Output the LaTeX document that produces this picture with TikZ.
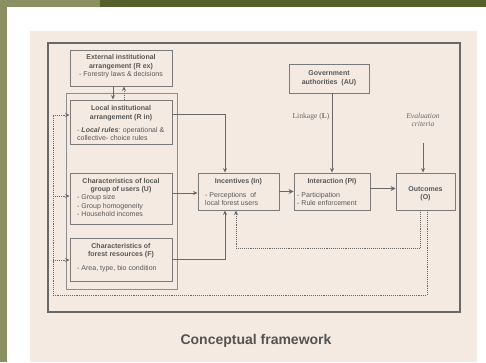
\documentclass[tikz,border=0pt]{standalone}
\usepackage{fontspec}
\setmainfont{Liberation Sans}
\newfontfamily\serifx{Liberation Serif}
\usetikzlibrary{arrows.meta}
\definecolor{olivelt}{HTML}{8A9062}
\definecolor{olivedk}{HTML}{55602A}
\definecolor{panel}{HTML}{F5EAE2}
\definecolor{txt}{HTML}{575757}
\definecolor{edge}{HTML}{7A7A7A}
\definecolor{framec}{HTML}{686868}
\begin{document}
\begin{tikzpicture}[x=1pt,y=-1pt,
  box/.style={draw=edge, line width=0.9pt, inner sep=0pt},
  tl/.style={anchor=base, inner sep=0pt, text=txt, font=\fontsize{7}{8}\selectfont},
  tlb/.style={tl, font=\fontsize{7}{8}\selectfont\bfseries},
  tll/.style={tl, anchor=base west},
  ar/.style={draw=framec, line width=0.9pt, -{Stealth[length=4.5pt,width=4pt]}},
  art/.style={draw=framec, line width=1.8pt, -{Stealth[length=5pt,width=5pt]}},
  dt/.style={draw=framec, line width=0.9pt, densely dotted, -{Stealth[length=4.5pt,width=4pt]}},
  dtn/.style={draw=framec, line width=0.9pt, densely dotted}]
\useasboundingbox (0,0) rectangle (486,362);
% background
\fill[white] (0,0) rectangle (486,362);
\fill[olivelt] (0,0) rectangle (7,362);
\fill[olivelt] (0,0) rectangle (100,7);
\fill[olivedk] (100,0) rectangle (486,7);
\fill[panel] (30,31) rectangle (477,362);
\draw[framec, line width=1.1pt] (48,43) rectangle (460,312);
\draw[edge!85, line width=0.8pt] (66,93) rectangle (177,289);
% boxes
\node[box, minimum width=102pt, minimum height=36pt] (ext) at (121,68) {};
\node[box, minimum width=102pt, minimum height=44pt] (loc) at (121,122) {};
\node[box, minimum width=102pt, minimum height=51pt] (grp) at (121,198.5) {};
\node[box, minimum width=102pt, minimum height=43pt] (for) at (121,259.5) {};
\node[box, minimum width=80pt, minimum height=29pt] (gov) at (329,78.5) {};
\node[box, minimum width=81pt, minimum height=37pt] (inc) at (238.5,191.5) {};
\node[box, minimum width=76pt, minimum height=37pt] (int) at (332,191.5) {};
\node[box, minimum width=59pt, minimum height=37pt] (out) at (425.5,191.5) {};
% texts
\node[tlb] (ext1) at (121,59.5) {External institutional};
\node[tlb] (ext2) at (121,68.5) {arrangement (R ex)};
\node[tl] (ext3) at (121,76.5) {- Forestry laws \& decisions};
\node[tlb] (loc1) at (121,110.5) {Local institutional};
\node[tlb] (loc2) at (121,119.5) {arrangement (R in)};
\node[tll] (loc3) at (77,132.5) {- \textbf{\textit{Local rules}}: operational \&};
\node[tll] (loc4) at (77,140.5) {collective- choice rules};
\node[tlb] (grp1) at (121,183.5) {Characteristics of local};
\node[tlb] (grp2) at (121,191.5) {group of users (U)};
\node[tll] (grp3) at (77,199.5) {- Group size};
\node[tll] (grp4) at (77,208.5) {- Group homogeneity};
\node[tll] (grp5) at (77,216.5) {- Household incomes};
\node[tlb] (for1) at (121,248.5) {Characteristics of};
\node[tlb] (for2) at (121,256.5) {forest resources (F)};
\node[tll] (for3) at (77,270.5) {- Area, type, bio condition};
\node[tlb] (gov1) at (329,75.5) {Government};
\node[tlb] (gov2) at (329,84.5) {authorities\ \ (AU)};
\node[tlb] (inc1) at (238.5,183.5) {Incentives (In)};
\node[tll] (inc2) at (205,197.5) {- Perceptions\ \ of};
\node[tll] (inc3) at (205,205.5) {local forest users};
\node[tlb] (int1) at (332,183.5) {Interaction (PI)};
\node[tll] (int2) at (297,197.5) {- Participation};
\node[tll] (int3) at (297,205.5) {- Rule enforcement};
\node[tlb] (out1) at (425.5,191.5) {Outcomes};
\node[tlb] (out2) at (425.5,199.5) {(O)};
\node[tl, font=\serifx\fontsize{7.6}{9}\selectfont, text=txt!90] (link) at (311,118.5) {Linkage (\textbf{L})};
\node[tl, font=\serifx\itshape\fontsize{7.6}{9}\selectfont, text=txt!90] (ev1) at (423,118.5) {Evaluation};
\node[tl, font=\serifx\itshape\fontsize{7.6}{9}\selectfont, text=txt!90] (ev2) at (423,126.5) {criteria};
\node[anchor=base, inner sep=0pt, text=txt!95!black, font=\fontsize{14}{16}\selectfont\bfseries] (title) at (256,344) {Conceptual framework};
% coordinates
\coordinate (evtop) at (423,143);
\coordinate (fbR) at (427,295);
\coordinate (fbL) at (53,295);
\coordinate (fbT) at (53,115);
\coordinate (fbG) at (53,196);
\coordinate (fbF) at (53,260);
\coordinate (f2R) at (420,248);
\coordinate (f2L) at (236,248);
% connectors
\draw[ar] ([xshift=-8pt]ext.south) -- ([xshift=-8pt]loc.north);
\draw[dt] ([xshift=3pt]loc.north) -- ([xshift=3pt]ext.south);
\draw[ar] ([yshift=8pt]loc.east) -| ([xshift=-13.5pt]inc.north);
\draw[ar] ([yshift=5.5pt]grp.east) -- ([yshift=-1.5pt]inc.west);
\draw[ar] (for.east) ++(0,-0.5) -| ([xshift=-13.5pt]inc.south);
\draw[art] (inc.east) -- (int.west);
\draw[art] ([yshift=3pt]int.east) -- ([yshift=3pt]out.west);
\draw[ar] (gov.south -| int.north) -- (int.north);
\draw[ar] (evtop) -- (evtop |- out.north);
\draw[dtn] ([xshift=1.5pt]out.south) -- (fbR) -- (fbL) -- (fbT);
\draw[dt] (fbT) -- (fbT -| loc.west);
\draw[dt] (fbG) -- (fbG -| grp.west);
\draw[dt] (fbF) -- (fbF -| for.west);
\draw[dt] ([xshift=-5.5pt]out.south) -- (f2R) -- (f2L) -- (f2L |- inc.south);
\end{tikzpicture}
\end{document}
